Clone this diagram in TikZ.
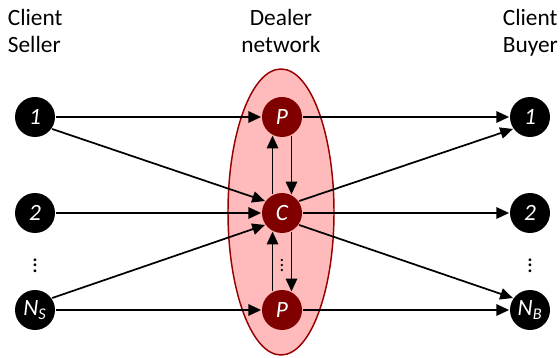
\documentclass[tikz,border=0pt]{standalone}
\usepackage{fontspec}
\setmainfont{Carlito}
\usepackage{tikz}
\usetikzlibrary{arrows.meta}
\usetikzlibrary{shapes}
\usetikzlibrary{positioning}
\definecolor{dealerred}{RGB}{128,0,0}
\definecolor{netpink}{RGB}{255,187,187}
\definecolor{netedge}{RGB}{150,0,0}
\newcommand{\picfont}{\fontsize{17.5}{20.5}\selectfont}
\tikzset{%
  every client/.style={
    circle,
    fill=black,
    text=white,
    inner sep=0pt,
    minimum size=30pt,
    font=\picfont\itshape
  },
  every dealer/.style={
    every client,
    fill=dealerred
  },
  client missing/.style={
    fill=none,
    text=black,
    font=\picfont,
    execute at begin node=$\vdots$
  },
  dealer missing/.style={
    client missing,
    font=\fontsize{14}{16}\selectfont
  },
  dealer network/.style={
    ellipse,
    draw=netedge,
    fill=netpink,
    line width=1.1pt,
    minimum width=79.5pt,
    minimum height=214.5pt
  },
  column title/.style={
    inner sep=0pt,
    font=\picfont
  },
}

\begin{document}
\begin{tikzpicture}[x=0.75pt, y=0.75pt, >={Triangle[length=9.5pt, width=8.5pt]}, line width=1.3pt]

    \useasboundingbox (0,0) rectangle (560,357);

    \node [dealer network] (network) at (281,145) {};

    \foreach \m/\l/\h in {1/1/240, 2/2/144, missing//95.5, 3/{N\textsubscript{S}}/47}
    \node [every client/.try, client \m/.try] (seller-\m) at (35,\h) {\l};

    \foreach \m/\l/\h in {1/P/240, 2/C/144, missing//95.5, 3/P/47}
    \node [every dealer/.try, dealer \m/.try] (dealer-\m) at (282,\h) {\l};

    \foreach \m/\l/\h in {1/1/240, 2/2/144, missing//95.5, 3/{N\textsubscript{B}}/47}
    \node [every client/.try, client \m/.try] (buyer-\m) at (530,\h) {\l};

    % clients to dealers
    \draw [->] (seller-1) -- (dealer-1);
    \draw [->] (seller-1.-35) -- (dealer-2.145);
    \draw [->] (seller-2) -- (dealer-2);
    \draw [->] (seller-3.35) -- (dealer-2.215);
    \draw [->] (seller-3) -- (dealer-3);

    % inside the network
    \draw [->] (dealer-2.117) -- (dealer-1.243);
    \draw [->] (dealer-1.297) -- (dealer-2.63);
    \draw [->] (dealer-3.117) -- (dealer-2.243);
    \draw [->] (dealer-2.297) -- (dealer-3.63);

    % dealers to clients
    \draw [->] (dealer-1) -- (buyer-1);
    \draw [->] (dealer-2.35) -- (buyer-1.215);
    \draw [->] (dealer-2) -- (buyer-2);
    \draw [->] (dealer-2.-35) -- (buyer-3.145);
    \draw [->] (dealer-3) -- (buyer-3);

    \node [column title, align=left, anchor=north west] (seller-title) at (7,349) {Client\\Seller};
    \node [column title, align=center, anchor=north] (dealer-title) at (281,349) {Dealer\\network};
    \node [column title, align=left, anchor=north west] (buyer-title) at (502,349) {Client\\Buyer};

\end{tikzpicture}
\end{document}
